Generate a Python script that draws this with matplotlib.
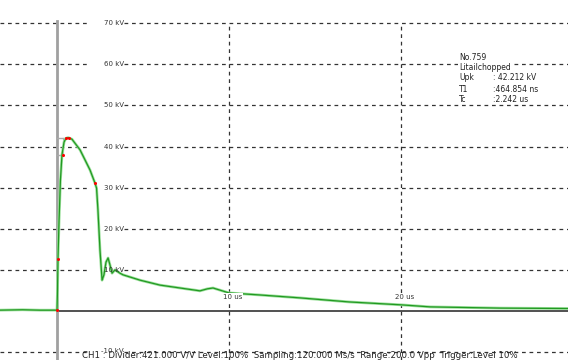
import numpy as np
import matplotlib
matplotlib.use('Agg')
import matplotlib.pyplot as plt

# waveform: time (us), voltage (kV)
t_us = [-3.4, -2.0, -1.0, 0.0, 0.03, 0.06, 0.12, 0.20, 0.29, 0.41, 0.52, 0.65,
        0.87, 1.34, 1.92, 2.21, 2.30, 2.38, 2.50, 2.62, 2.73, 2.85, 2.97, 3.08,
        3.20, 3.37, 3.55, 3.66, 3.84, 4.83, 5.99, 7.15, 8.31, 8.75, 9.07, 10.0,
        11.8, 14.1, 17.0, 20.0, 21.7, 25.8, 29.8]
v_kv = [0.2, 0.3, 0.2, 0.2, 5.1, 13.1, 22.1, 31.9, 38.0, 41.1, 42.0, 42.2,
        41.8, 39.2, 34.3, 31.1, 29.9, 24.6, 14.8, 7.5, 8.8, 11.9, 12.9, 11.2,
        9.2, 10.0, 9.5, 9.2, 8.8, 7.5, 6.3, 5.6, 4.9, 5.4, 5.6, 4.4,
        3.9, 3.2, 2.2, 1.5, 1.0, 0.7, 0.6]

# evaluation points (red dots)
mark_t = [0.0, 0.06, 0.35, 0.52, 0.70, 2.21]
mark_v = [0.2, 12.7, 38.0, 42.2, 42.2, 31.1]

kv_levels = [70, 60, 50, 40, 30, 20, 10, -10]
us_levels = [10, 20]

info_keys = ['Upk', 'T1', 'Tc']
info_vals = [': 42.212 kV', ':464.854 ns', ':2.242 us']
footer = 'CH1 : Divider:421.000 V/V Level:100%  Sampling:120.000 Ms/s  Range:200.0 Vpp  Trigger:Level 10%'

fig = plt.figure(figsize=(5.68, 3.6), dpi=100)
ax = fig.add_axes([0, 0, 1, 1])
x0, x1 = -57/17.2, 511/17.2
y0, y1 = -49/4.11, 311/4.11
ax.set_xlim(x0, x1)
ax.set_ylim(y0, y1)
ax.axis('off')

dash = (0, (3, 3))
for lv in kv_levels:
    ax.plot([x0, 1.8], [lv, lv], color='#333333', lw=0.9, ls=dash)
    ax.plot([3.9, x1], [lv, lv], color='#333333', lw=0.9, ls=dash)
    ly = lv + 0.3 if lv < 0 else lv
    ax.text(3.9, ly, str(lv) + ' kV', fontsize=5, ha='right', va='center', color='#333333')

for tv in us_levels:
    ax.plot([tv, tv], [y0, 70], color='#333333', lw=0.9, ls=dash)
    ax.text(tv + 0.23, 3.4, str(tv) + ' us', fontsize=5, ha='center', va='center', color='#333333',
            bbox=dict(fc='white', ec='none', pad=0.5))

# zero line and trigger line
ax.plot([0, x1], [0, 0], color='#333333', lw=1.2)
ax.plot([0, 0], [y0, 70.5], color='#a0a0a0', lw=2)

# peak / T1 construction lines
ax.plot([0, 0.52], [42.2, 42.2], color='#aaaaaa', lw=1)
ax.plot([0, 0.35], [38.0, 38.0], color='#aaaaaa', lw=1)
ax.plot([0.35, 0.35], [38.0, 42.2], color='#aaaaaa', lw=0.8)

ax.plot(t_us, v_kv, color='#9de09d', lw=2.0)
ax.plot(t_us, v_kv, color='#229922', lw=0.9)
ax.plot(mark_t, mark_v, 'o', color='red', ms=2.2, mec='none')

# info block
def px(x, y):
    return (x - 57) / 17.2, (311 - y) / 4.11

ax.text(*px(459, 57), 'No.759', fontsize=5.5, va='center', color='#222222')
ax.text(*px(459, 67), 'Litailchopped', fontsize=5.5, va='center', color='#222222',
        bbox=dict(fc='white', ec='none', pad=0.5))
for i in range(len(info_keys)):
    yy = 78 + 11 * i
    ax.text(*px(459, yy), info_keys[i], fontsize=5.5, va='center', color='#222222')
    ax.text(*px(493, yy), info_vals[i], fontsize=5.5, va='center', color='#222222')

ax.text(*px(300, 358.2), footer, fontsize=6.2, ha='center', va='baseline', color='#222222')

plt.savefig('out.png', dpi=100)
